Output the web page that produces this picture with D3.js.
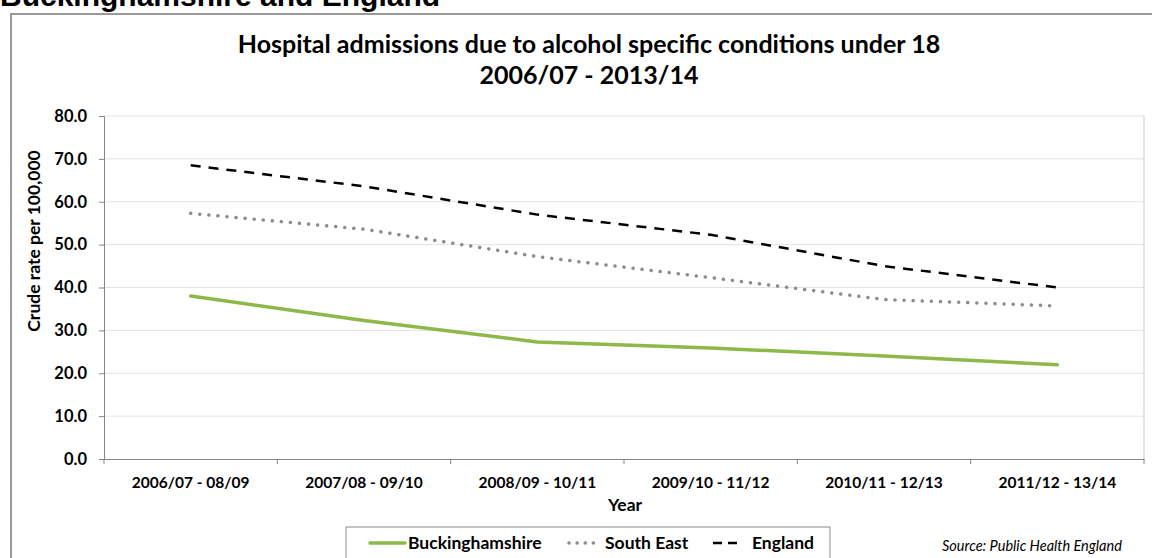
<!DOCTYPE html>
<html>
<head>
<meta charset="utf-8">
<script src="https://cdn.jsdelivr.net/npm/d3@7"></script>
<style>
  body { margin: 0; background: #fff; }
  svg { display: block; }
  text { font-family: Lato, "Open Sans", sans-serif; fill: #000; }
</style>
</head>
<body>
<div id="chart"></div>
<script>
var categories = ["2006/07 - 08/09", "2007/08 - 09/10", "2008/09 - 10/11", "2009/10 - 11/12", "2010/11 - 12/13", "2011/12 - 13/14"];
var bucks_values = [38.0, 32.3, 27.3, 25.9, 24.0, 22.0];
var south_east_values = [57.3, 53.6, 47.2, 42.3, 37.2, 35.7];
var england_values = [68.5, 63.6, 57.0, 52.3, 45.0, 40.0];
var y_ticks = [0, 10, 20, 30, 40, 50, 60, 70, 80];

var width_chart = 1152;
var height_chart = 558;
var margin = {left: 104, right: 8, top: 116, bottom: 99};

var svg = d3.select("#chart").append("svg")
  .attr("width", width_chart)
  .attr("height", height_chart);

// page heading, cut off at the top
svg.append("text")
  .attr("x", 0).attr("y", 6)
  .style("font-family", "'Liberation Sans', Arial, sans-serif")
  .style("font-weight", "bold")
  .style("font-size", "30px")
  .text("Buckinghamshire and England");

// outer chart frame
svg.append("rect")
  .attr("x", 11).attr("y", 14)
  .attr("width", 1160).attr("height", 600)
  .attr("fill", "none")
  .attr("stroke", "#9a9a9a")
  .attr("stroke-width", 2);

var x = d3.scaleBand()
  .domain(categories)
  .range([margin.left, width_chart - margin.right]);
var y = d3.scaleLinear()
  .domain([0, 80])
  .range([height_chart - margin.bottom, margin.top]);

// gridlines
svg.append("g")
  .selectAll("line")
  .data(y_ticks.filter(function (d) { return d > 0; }))
  .join("line")
  .attr("x1", margin.left).attr("x2", width_chart - margin.right)
  .attr("y1", function (d) { return y(d); })
  .attr("y2", function (d) { return y(d); })
  .attr("stroke", "#e3e3e3")
  .attr("stroke-width", 1);

// plot area right border
svg.append("line")
  .attr("x1", width_chart - margin.right).attr("x2", width_chart - margin.right)
  .attr("y1", margin.top).attr("y2", y(0))
  .attr("stroke", "#c8c8c8");

var y_axis = svg.append("g")
  .attr("transform", "translate(" + margin.left + ",0)")
  .call(d3.axisLeft(y).tickValues(y_ticks).tickSize(5).tickPadding(12)
    .tickFormat(d3.format(".1f")));
y_axis.selectAll("path, line").attr("stroke", "#868686");
y_axis.selectAll("text")
  .style("font-size", "16.5px").style("font-weight", "bold")
  .style("font-family", "Lato, sans-serif");

var x_axis = svg.append("g")
  .attr("transform", "translate(0," + y(0) + ")")
  .call(d3.axisBottom(x).tickSize(0).tickPadding(18));
x_axis.select(".domain").attr("stroke", "#868686");
x_axis.selectAll("text")
  .style("font-size", "15.5px").style("font-weight", "bold")
  .style("font-family", "Lato, sans-serif");
// category boundary ticks
x_axis.selectAll(".bound")
  .data(categories.concat([null]))
  .join("line")
  .attr("class", "bound")
  .attr("x1", function (d, i) { return margin.left + i * x.bandwidth(); })
  .attr("x2", function (d, i) { return margin.left + i * x.bandwidth(); })
  .attr("y1", 0).attr("y2", 5)
  .attr("stroke", "#868686");

var line = d3.line()
  .x(function (d, i) { return x(categories[i]) + x.bandwidth() / 2; })
  .y(function (d) { return y(d); });

var series = [
  {name: "England", values: england_values, color: "#000", width: 2.5, dash: "10,8", cap: "butt"},
  {name: "South East", values: south_east_values, color: "#8c8c8c", width: 3.5, dash: "0.1,9", cap: "round"},
  {name: "Buckinghamshire", values: bucks_values, color: "#8db84a", width: 3.5, dash: null, cap: "round"}
];

svg.append("g")
  .selectAll("path")
  .data(series)
  .join("path")
  .attr("d", function (d) { return line(d.values); })
  .attr("fill", "none")
  .attr("stroke", function (d) { return d.color; })
  .attr("stroke-width", function (d) { return d.width; })
  .attr("stroke-dasharray", function (d) { return d.dash; })
  .attr("stroke-linecap", function (d) { return d.cap; });

// titles
svg.append("text")
  .attr("x", 589).attr("y", 53)
  .attr("text-anchor", "middle")
  .style("font-size", "25px").style("font-weight", "bold")
  .text("Hospital admissions due to alcohol specific conditions under 18");
svg.append("text")
  .attr("x", 589).attr("y", 84)
  .attr("text-anchor", "middle")
  .style("font-size", "25px").style("font-weight", "bold")
  .text("2006/07 - 2013/14");

svg.append("text")
  .attr("transform", "translate(40,241) rotate(-90)")
  .attr("text-anchor", "middle")
  .style("font-size", "17.5px").style("font-weight", "bold")
  .text("Crude rate per 100,000");

svg.append("text")
  .attr("x", 625).attr("y", 511)
  .attr("text-anchor", "middle")
  .style("font-size", "17.5px").style("font-weight", "bold")
  .text("Year");

// legend
var legend = svg.append("g");
legend.append("rect")
  .attr("x", 346).attr("y", 527)
  .attr("width", 484).attr("height", 40)
  .attr("fill", "#fff")
  .attr("stroke", "#8c8c8c");
var legend_items = [
  {s: series[2], x1: 370, x2: 405, tx: 408},
  {s: series[1], x1: 569, x2: 597, tx: 605},
  {s: series[0], x1: 713, x2: 737, tx: 752}
];
legend.selectAll("line")
  .data(legend_items)
  .join("line")
  .attr("x1", function (d) { return d.x1; })
  .attr("x2", function (d) { return d.x2; })
  .attr("y1", 543).attr("y2", 543)
  .attr("stroke", function (d) { return d.s.color; })
  .attr("stroke-width", function (d) { return d.s.width; })
  .attr("stroke-dasharray", function (d) { return d.s.dash === "10,8" ? "9,6" : d.s.dash === null ? null : "0.1,8"; })
  .attr("stroke-linecap", function (d) { return d.s.cap; });
legend.selectAll("text")
  .data(legend_items)
  .join("text")
  .attr("x", function (d) { return d.tx; })
  .attr("y", 549)
  .style("font-size", "17.5px").style("font-weight", "bold")
  .text(function (d) { return d.s.name; });

svg.append("text")
  .attr("x", 942).attr("y", 551)
  .style("font-size", "14.5px").style("font-style", "italic")
  .text("Source: Public Health England");
</script>
</body>
</html>
